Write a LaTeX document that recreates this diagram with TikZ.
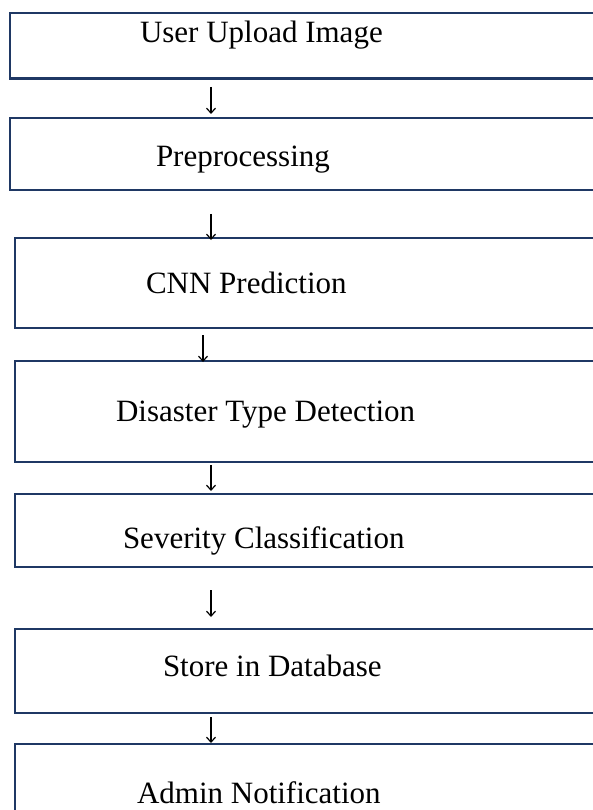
\documentclass[tikz,border=0pt]{standalone}
\usepackage{fontspec}
\setmainfont{Liberation Serif}
\usetikzlibrary{arrows.meta}
\definecolor{boxline}{HTML}{1F3864}
\tikzset{
  flowbox/.style={draw=boxline, line width=2.4pt, inner sep=0pt, outer sep=0pt, anchor=north west},
  flowtext/.style={anchor=base west, inner sep=0pt, outer sep=0pt, font=\fontsize{31}{36}\selectfont},
  arr/.style={line width=1.2pt, -{Straight Barb[length=5pt,width=9pt,line width=1.2pt]}}
}
\begin{document}
\begin{tikzpicture}[x=1pt,y=-1pt]
\useasboundingbox (0,0) rectangle (593,810);
\clip (0,0) rectangle (593,810);
\fill[white] (0,0) rectangle (593,810);
% boxes
\node[flowbox, minimum width=600pt, minimum height=65.5pt] (b1) at (10,13) {};
\node[flowbox, minimum width=600pt, minimum height=72pt] (b2) at (10,118) {};
\node[flowbox, minimum width=600pt, minimum height=90pt] (b3) at (15,238) {};
\node[flowbox, minimum width=600pt, minimum height=101pt] (b4) at (15,361) {};
\node[flowbox, minimum width=600pt, minimum height=73pt] (b5) at (15,494) {};
\node[flowbox, minimum width=600pt, minimum height=84pt] (b6) at (15,629) {};
\node[flowbox, minimum width=600pt, minimum height=90pt] (b7) at (15,744) {};
% texts
\node[flowtext] (t1) at (140,43) {User Upload Image};
\node[flowtext] (t2) at (156,167) {Preprocessing};
\node[flowtext] (t3) at (146,293) {CNN Prediction};
\node[flowtext] (t4) at (116,421) {Disaster Type Detection};
\node[flowtext] (t5) at (123,548) {Severity Classification};
\node[flowtext] (t6) at (163,676) {Store in Database};
\node[flowtext] (t7) at (137,803) {Admin Notification};
% arrows
\coordinate (a1s) at (211,87);  \coordinate (a1e) at (211,114);
\coordinate (a2s) at (211,214); \coordinate (a2e) at (211,240);
\coordinate (a3s) at (203,335); \coordinate (a3e) at (203,362);
\coordinate (a4s) at (211,465); \coordinate (a4e) at (211,491);
\coordinate (a5s) at (211,590); \coordinate (a5e) at (211,617);
\coordinate (a6s) at (211,717); \coordinate (a6e) at (211,743);
\draw[arr] (a1s) -- (a1e);
\draw[arr] (a2s) -- (a2e);
\draw[arr] (a3s) -- (a3e);
\draw[arr] (a4s) -- (a4e);
\draw[arr] (a5s) -- (a5e);
\draw[arr] (a6s) -- (a6e);
\end{tikzpicture}
\end{document}
